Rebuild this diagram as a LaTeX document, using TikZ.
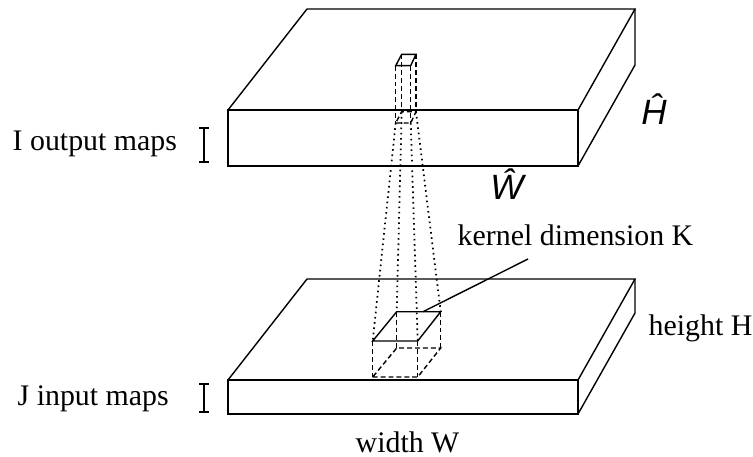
\documentclass[tikz,border=0pt]{standalone}
\usepackage{fontspec}
\setmainfont{Liberation Serif}
\newfontfamily\hatfont{Liberation Sans}
\usetikzlibrary{positioning}

\begin{document}
\begin{tikzpicture}[x=0.02cm,y=-0.02cm,line width=0.8pt,
  lbl/.style={font=\fontsize{17}{20}\selectfont,inner sep=0pt,anchor=base west},
  hatlbl/.style={font=\fontsize{20}{24}\selectfont\hatfont\itshape,inner sep=0pt,anchor=base},
  hid/.style={dash pattern=on 2.8pt off 1.7pt},
  ray/.style={dash pattern=on 0.9pt off 2.1pt,line width=1pt}]
  \useasboundingbox (0,0) rectangle (753,456);
  % output maps
  \draw (228,110) rectangle (578,166);
  \draw (228,110) -- (307,9) -- (635,9) -- (578,110);
  \draw (635,9) -- (635,65) -- (578,166);
  % input maps
  \draw (228,380) rectangle (578,414);
  \draw (228,380) -- (307,279) -- (635,279) -- (578,380);
  \draw (635,279) -- (635,313) -- (578,414);
  % output column
  \coordinate (tfl) at (395.7,65.7); \coordinate (tfr) at (410.7,65.7);
  \coordinate (tbl) at (401.7,54.3); \coordinate (tbr) at (416,54.3);
  \coordinate (bfl) at (395.7,123); \coordinate (bfr) at (410.7,123);
  \coordinate (bbl) at (401.7,111.7); \coordinate (bbr) at (416,111.7);
  \draw (tfl) -- (tfr) -- (tbr) -- (tbl) -- cycle;
  \draw[hid] (tfl) -- (bfl) (tfr) -- (bfr) (tbl) -- (bbl) (tbr) -- (bbr);
  \draw[hid] (bfl) -- (bfr) -- (bbr) -- (bbl) -- cycle;
  % kernel
  \coordinate (kfl) at (372.7,341); \coordinate (kfr) at (417.7,341);
  \coordinate (kbl) at (396.7,311.7); \coordinate (kbr) at (440.7,311.7);
  \coordinate (lfl) at (372.7,377); \coordinate (lfr) at (417.7,377);
  \coordinate (lbl) at (396.7,348); \coordinate (lbr) at (440.7,348);
  \draw (kfl) -- (kfr) -- (kbr) -- (kbl) -- cycle;
  \draw[hid] (kfl) -- (lfl) (kfr) -- (lfr) (kbl) -- (lbl) (kbr) -- (lbr);
  \draw[hid] (lfl) -- (lfr) -- (lbr) -- (lbl) -- cycle;
  % receptive field
  \draw[ray] (bfl) -- (kfl) (bbl) -- (kbl) (bfr) -- (kfr) (bbr) -- (kbr);
  % labels
  \node[lbl] (outmaps) at (12,150) {I output maps};
  \node[lbl] (inmaps) at (17,405) {J input maps};
  \node[lbl] (kernel) at (457,245) {kernel dimension K};
  \node[lbl] (height) at (648,335) {height H};
  \node[lbl] (width) at (355,452) {width W};
  \node[hatlbl] (hhat) at (654,124) {Ĥ};
  \node[hatlbl] (what) at (507,199) {Ŵ};
  \coordinate (kpt) at (423,311.7);
  \draw (kpt) -- ([shift={(71,14)}]kernel.base west);
  % depth bars
  \draw[line width=1.1pt] (204,128) -- (204,162) (199,128) -- (209,128) (199,162) -- (209,162);
  \draw[line width=1.1pt] (204,384) -- (204,412) (199,384) -- (209,384) (199,412) -- (209,412);
\end{tikzpicture}
\end{document}
